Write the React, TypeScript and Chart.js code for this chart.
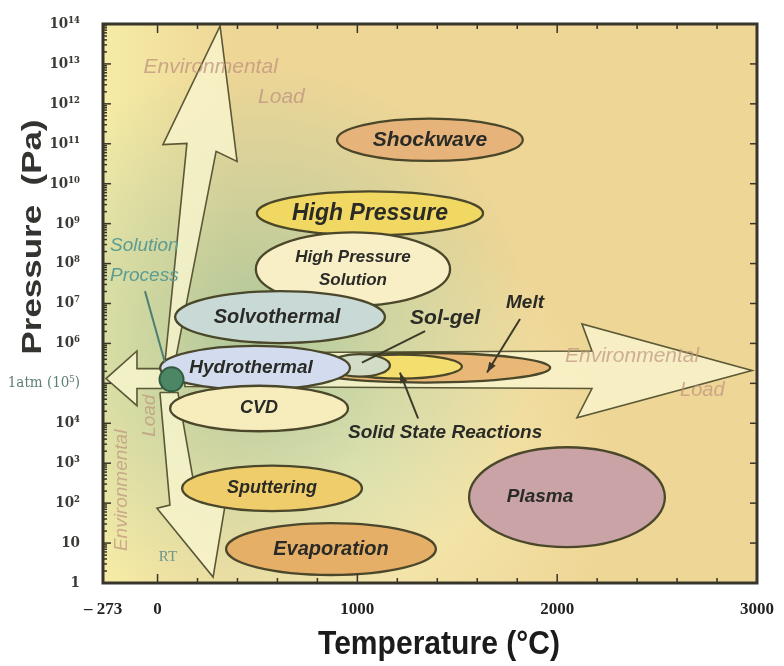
import React, { useEffect, useRef } from "react";
import { Chart, registerables } from "chart.js";

Chart.register(...registerables);

// ---------- axes ----------
const tempMinC = -273;
const tempMaxC = 3000;
const xTickValues = [-273, 0, 1000, 2000, 3000];
const xTickLabels = ["\u2013 273", "0", "1000", "2000", "3000"];
const yTickExponents = [0, 1, 2, 3, 4, 5, 6, 7, 8, 9, 10, 11, 12, 13, 14];
const yTickLabels = [
  "1", "10", "10\u00B2", "10\u00B3", "10\u2074", "1atm (10\u2075)", "10\u2076", "10\u2077",
  "10\u2078", "10\u2079", "10\u00B9\u2070", "10\u00B9\u00B9", "10\u00B9\u00B2", "10\u00B9\u00B3", "10\u00B9\u2074",
];
const xTitle = "Temperature (\u00B0C)";
const yTitle = "Pressure  (Pa)";

// ---------- process regions (ellipses): centre and half-extent ----------
const processNames = [
  "Melt", "Solid State Reactions", "Sol-gel", "Shockwave", "High Pressure", "High Pressure Solution",
  "Solvothermal", "Hydrothermal", "CVD", "Sputtering", "Evaporation", "Plasma",
];
const processTempC = [1339, 1213, 1013, 1363, 1063, 978, 613, 488, 508, 573, 868, 2049];
const processLogPa = [5.39, 5.42, 5.45, 11.1, 9.26, 7.86, 6.66, 5.39, 4.37, 2.37, 0.85, 2.15];
const processHalfTempC = [626, 310, 150, 465, 566, 486, 525, 475, 445, 450, 525, 490];
const processHalfLogPa = [0.37, 0.3, 0.28, 0.53, 0.55, 0.92, 0.65, 0.55, 0.57, 0.57, 0.65, 1.25];
const processInnerText = [
  [], [], [], ["Shockwave"], ["High Pressure"], ["High Pressure", "Solution"],
  ["Solvothermal"], ["Hydrothermal"], ["CVD"], ["Sputtering"], ["Evaporation"], ["Plasma"],
];

// ---------- environmental-load arrows (outline vertices) ----------
const upArrowTempC = [37, 147, 27, 313, 398, 293, 87];
const upArrowLogPa = [5.52, 11.01, 10.98, 13.95, 10.56, 10.81, 5.52];
const downArrowTempC = [12, 62, -3, 278, 343, 192, 102];
const downArrowLogPa = [4.77, 1.95, 1.87, 0.15, 2.1, 2.2, 4.77];
const leftArrowTempC = [22, -103, -103, -258, -103, -103, 22];
const leftArrowLogPa = [5.37, 5.37, 5.81, 5.12, 4.44, 4.87, 4.87];
const rightArrowTempC = [137, 2174, 2124, 2975, 2099, 2174, 137];
const rightArrowLogPa = [5.76, 5.81, 6.49, 5.32, 4.14, 4.87, 4.92];

// ---------- room temperature / 1 atm point ----------
const rtTempC = [70];
const rtLogPa = [5.1];

// ---------- styles ----------
const processFill = [
  "#e9b877", "#f3de6e", "#d3dcc6", "#e6b47a", "#f1d862", "#f8efc6",
  "#c8d9d6", "#d3dcee", "#f7ecbc", "#efcd6a", "#e5af68", "#c9a3a6",
];
const processFontPx = [0, 0, 0, 21, 23, 17, 20, 19, 18, 18, 20, 19];
const processTextShiftPx = [0, 0, 0, 0, 0, 0, -3, -4, 0, 0, 0, -27];
const outline = "#4a472a";
const arrowFill = "rgba(250,246,208,0.78)";
const arrowStroke = "#5a5836";
const labelFont = "'Liberation Sans', Arial, sans-serif";
const tickSerif = "'DejaVu Serif Condensed', 'DejaVu Serif', serif";

const pa = (e: number) => Math.pow(10, e);
const pts = (ts: number[], es: number[]) => {
  const p = ts.map((t, i) => ({ x: t, y: pa(es[i]) }));
  p.push({ ...p[0] });
  return p;
};

type Note = {
  text: string; t: number; e: number; size: number; color: string;
  style?: string; align?: CanvasTextAlign; rot?: number;
};
const notes: Note[] = [
  { text: "Sol-gel", t: 1439, e: 6.64, size: 21, color: "#2a2a26", style: "italic bold" },
  { text: "Melt", t: 1839, e: 7.01, size: 19, color: "#2a2a26", style: "italic bold" },
  { text: "Solid State Reactions", t: 1439, e: 3.77, size: 19, color: "#2a2a26", style: "italic bold" },
  { text: "Solution", t: -238, e: 8.44, size: 19, color: "#5c9c92", style: "italic", align: "left" },
  { text: "Process", t: -238, e: 7.69, size: 19, color: "#5c9c92", style: "italic", align: "left" },
  { text: "Environmental", t: -70, e: 12.93, size: 21, color: "rgba(190,145,125,0.75)", style: "italic", align: "left" },
  { text: "Load", t: 503, e: 12.18, size: 21, color: "rgba(190,145,125,0.75)", style: "italic", align: "left" },
  { text: "Environmental", t: 2039, e: 5.69, size: 21, color: "rgba(190,145,125,0.7)", style: "italic", align: "left" },
  { text: "Load", t: 2615, e: 4.82, size: 20, color: "rgba(190,145,125,0.7)", style: "italic", align: "left" },
  { text: "Environmental", t: -178, e: 2.32, size: 19, color: "rgba(190,145,125,0.7)", style: "italic", rot: -Math.PI / 2 },
  { text: "Load", t: -38, e: 4.19, size: 19, color: "rgba(190,145,125,0.7)", style: "italic", rot: -Math.PI / 2 },
];
type Pointer = { t0: number; e0: number; t1: number; e1: number; color: string; head: boolean };
const pointers: Pointer[] = [
  { t0: 1339, e0: 6.31, t1: 1023, e1: 5.52, color: "#3c3a28", head: false },
  { t0: 1814, e0: 6.61, t1: 1649, e1: 5.27, color: "#3c3a28", head: true },
  { t0: 1304, e0: 4.12, t1: 1213, e1: 5.27, color: "#3c3a28", head: true },
  { t0: -63, e0: 7.31, t1: 37, e1: 5.52, color: "#4f7f72", head: false },
];

const diagramPlugin = {
  id: "diagram",
  beforeDatasetsDraw(chart: any) {
    const { ctx, chartArea: a } = chart;
    const w = a.right - a.left;
    const h = a.bottom - a.top;
    ctx.save();
    ctx.fillStyle = "#eed696";
    ctx.fillRect(a.left, a.top, w, h);
    let g = ctx.createLinearGradient(a.left, 0, a.left + 0.2 * w, 0);
    g.addColorStop(0, "rgba(246,238,168,0.9)");
    g.addColorStop(1, "rgba(246,238,168,0)");
    ctx.fillStyle = g;
    ctx.fillRect(a.left, a.top, w, h);
    const lx = a.left + 0.38 * w, ly = a.top + 0.8 * h;
    g = ctx.createRadialGradient(lx, ly, 0, lx, ly, 0.4 * w);
    g.addColorStop(0, "rgba(248,242,188,0.85)");
    g.addColorStop(1, "rgba(248,242,188,0)");
    ctx.fillStyle = g;
    ctx.fillRect(a.left, a.top, w, h);
    const gx = a.left + 0.24 * w, gy = a.top + 0.56 * h;
    g = ctx.createRadialGradient(gx, gy, 0, gx, gy, 0.42 * w);
    g.addColorStop(0, "rgba(148,190,150,0.75)");
    g.addColorStop(0.55, "rgba(170,200,160,0.4)");
    g.addColorStop(1, "rgba(170,200,160,0)");
    ctx.fillStyle = g;
    ctx.fillRect(a.left, a.top, w, h);
    ctx.restore();
  },
  beforeDatasetDraw(chart: any, args: any) {
    if (args.index !== 0) return;
    const { ctx, chartArea: a, scales } = chart;
    const x = scales.x, y = scales.y;
    ctx.save();
    ctx.beginPath();
    ctx.rect(a.left, a.top, a.right - a.left, a.bottom - a.top);
    ctx.clip();
    processNames.forEach((_n, i) => {
      const cx = x.getPixelForValue(processTempC[i]);
      const cy = y.getPixelForValue(pa(processLogPa[i]));
      const rx = x.getPixelForValue(processTempC[i] + processHalfTempC[i]) - cx;
      const ry = cy - y.getPixelForValue(pa(processLogPa[i] + processHalfLogPa[i]));
      ctx.beginPath();
      ctx.ellipse(cx, cy, rx, ry, 0, 0, Math.PI * 2);
      ctx.fillStyle = processFill[i];
      ctx.fill();
      ctx.lineWidth = 2.3;
      ctx.strokeStyle = outline;
      ctx.stroke();
    });
    ctx.restore();
  },
  afterDatasetsDraw(chart: any) {
    const { ctx, chartArea: a, scales } = chart;
    const x = scales.x, y = scales.y;
    ctx.save();
    // labels inside ellipses
    ctx.textAlign = "center";
    ctx.textBaseline = "middle";
    processNames.forEach((_n, i) => {
      const lines = processInnerText[i];
      if (!lines.length) return;
      const cx = x.getPixelForValue(processTempC[i]) + processTextShiftPx[i];
      const cy = y.getPixelForValue(pa(processLogPa[i]));
      const fs = processFontPx[i];
      ctx.font = `italic bold ${fs}px ${labelFont}`;
      ctx.fillStyle = "#2a2a26";
      const lh = fs * 1.35;
      lines.forEach((ln, k) => {
        ctx.fillText(ln, cx, cy + (k - (lines.length - 1) / 2) * lh);
      });
    });
    // pointer lines
    pointers.forEach((p) => {
      const x0 = x.getPixelForValue(p.t0), y0 = y.getPixelForValue(pa(p.e0));
      const x1 = x.getPixelForValue(p.t1), y1 = y.getPixelForValue(pa(p.e1));
      ctx.strokeStyle = p.color;
      ctx.fillStyle = p.color;
      ctx.lineWidth = 2;
      ctx.beginPath();
      ctx.moveTo(x0, y0);
      ctx.lineTo(x1, y1);
      ctx.stroke();
      if (p.head) {
        const ang = Math.atan2(y1 - y0, x1 - x0);
        ctx.beginPath();
        ctx.moveTo(x1, y1);
        ctx.lineTo(x1 - 11 * Math.cos(ang - 0.35), y1 - 11 * Math.sin(ang - 0.35));
        ctx.lineTo(x1 - 11 * Math.cos(ang + 0.35), y1 - 11 * Math.sin(ang + 0.35));
        ctx.closePath();
        ctx.fill();
      }
    });
    // free text notes
    notes.forEach((n) => {
      const px = x.getPixelForValue(n.t), py = y.getPixelForValue(pa(n.e));
      ctx.font = `${n.style || ""} ${n.size}px ${labelFont}`;
      ctx.fillStyle = n.color;
      ctx.textAlign = n.align || "center";
      ctx.textBaseline = "middle";
      ctx.save();
      ctx.translate(px, py);
      if (n.rot) ctx.rotate(n.rot);
      ctx.fillText(n.text, 0, 0);
      ctx.restore();
    });
    // RT
    ctx.font = `15px 'Liberation Serif', serif`;
    ctx.fillStyle = "#6a968c";
    ctx.textAlign = "center";
    ctx.fillText("RT", x.getPixelForValue(rtTempC[0] - 18), y.getPixelForValue(pa(0.65)));

    // frame + inner ticks
    ctx.strokeStyle = "#38352a";
    ctx.lineWidth = 1.5;
    for (let e = 0; e < 14; e++) {
      for (let k = 1; k <= 9; k++) {
        const py = y.getPixelForValue(k * pa(e));
        const len = k === 1 ? 8 : 4;
        ctx.beginPath();
        ctx.moveTo(a.left, py);
        ctx.lineTo(a.left + len, py);
        ctx.stroke();
      }
    }
    yTickExponents.forEach((e) => {
      const py = y.getPixelForValue(pa(e));
      ctx.beginPath();
      ctx.moveTo(a.right, py);
      ctx.lineTo(a.right - 7, py);
      ctx.stroke();
    });
    for (let t = 0; t <= tempMaxC; t += 200) {
      const pxx = x.getPixelForValue(t);
      const len = t % 1000 === 0 ? 9 : 5;
      ctx.beginPath();
      ctx.moveTo(pxx, a.top);
      ctx.lineTo(pxx, a.top + len);
      ctx.moveTo(pxx, a.bottom);
      ctx.lineTo(pxx, a.bottom - len);
      ctx.stroke();
    }
    ctx.lineWidth = 3;
    ctx.strokeRect(a.left, a.top, a.right - a.left, a.bottom - a.top);

    // y-axis title
    ctx.save();
    ctx.translate(33, a.top + 213);
    ctx.rotate(-Math.PI / 2);
    ctx.font = `bold 28px ${labelFont}`;
    const tw = ctx.measureText(yTitle).width;
    ctx.scale(235 / tw, 1);
    ctx.fillStyle = "#333330";
    ctx.textAlign = "center";
    ctx.textBaseline = "middle";
    ctx.fillText(yTitle, 0, 0);
    ctx.restore();

    // x-axis title (condensed)
    ctx.save();
    ctx.translate((a.left + a.right) / 2 + 9, a.bottom + 62);
    ctx.font = `bold 34px ${labelFont}`;
    const xw = ctx.measureText(xTitle).width;
    ctx.scale(242 / xw, 1);
    ctx.fillStyle = "#1b1b1b";
    ctx.textAlign = "center";
    ctx.textBaseline = "middle";
    ctx.fillText(xTitle, 0, 0);
    ctx.restore();
    ctx.restore();
  },
};

export default function App() {
  const ref = useRef<HTMLCanvasElement | null>(null);
  useEffect(() => {
    if (!ref.current) return;
    const arrowDs = (data: any[], order: number) => ({
      data,
      showLine: true,
      fill: "shape",
      backgroundColor: arrowFill,
      borderColor: arrowStroke,
      borderWidth: 1.6,
      pointRadius: 0,
      tension: 0,
      order,
    });
    const chart = new Chart(ref.current, {
      type: "scatter",
      data: {
        datasets: [
          {
            data: rtTempC.map((t, i) => ({ x: t, y: pa(rtLogPa[i]) })),
            pointRadius: 12,
            pointBackgroundColor: "#4c8664",
            pointBorderColor: "#2f5a40",
            pointBorderWidth: 2,
            order: 0,
          } as any,
          arrowDs(pts(rightArrowTempC, rightArrowLogPa), 8),
          arrowDs(pts(upArrowTempC, upArrowLogPa), 7),
          arrowDs(pts(downArrowTempC, downArrowLogPa), 6),
          arrowDs(pts(leftArrowTempC, leftArrowLogPa), 5),
        ],
      },
      options: {
        responsive: false,
        animation: false,
        layout: { padding: { top: 22, right: 27, left: 0, bottom: 0 } },
        plugins: { legend: { display: false }, tooltip: { enabled: false } },
        scales: {
          x: {
            type: "linear",
            min: tempMinC,
            max: tempMaxC,
            grid: { display: false },
            border: { display: false },
            afterBuildTicks: (s: any) => {
              s.ticks = xTickValues.map((v) => ({ value: v }));
            },
            afterFit: (s: any) => {
              s.height = 83;
            },
            ticks: {
              autoSkip: false,
              maxRotation: 0,
              padding: 8,
              color: "#222",
              font: { family: "'Liberation Serif', serif", weight: "bold", size: 17 },
              callback: (_v: any, i: number) => xTickLabels[i],
            },
          },
          y: {
            type: "logarithmic",
            min: 1,
            max: 1e14,
            grid: { display: false },
            border: { display: false },
            afterBuildTicks: (s: any) => {
              s.ticks = yTickExponents.map((e) => ({ value: pa(e) }));
            },
            afterFit: (s: any) => {
              s.width = 103;
            },
            ticks: {
              autoSkip: false,
              padding: 15,
              color: (c: any) => (c.index === 5 ? "#5d7f76" : "#3a3a36"),
              font: (c: any) =>
                c.index === 5
                  ? { family: tickSerif, size: 15 }
                  : { family: tickSerif, weight: "bold", size: 15 },
              callback: (_v: any, i: number) => yTickLabels[i],
            },
          },
        },
      },
      plugins: [diagramPlugin],
    } as any);
    return () => chart.destroy();
  }, []);
  return (
    <div style={{ position: "absolute", left: 0, top: 0, width: 784, height: 666, background: "#fff" }}>
      <canvas ref={ref} width={784} height={666} style={{ display: "block" }} />
    </div>
  );
}
